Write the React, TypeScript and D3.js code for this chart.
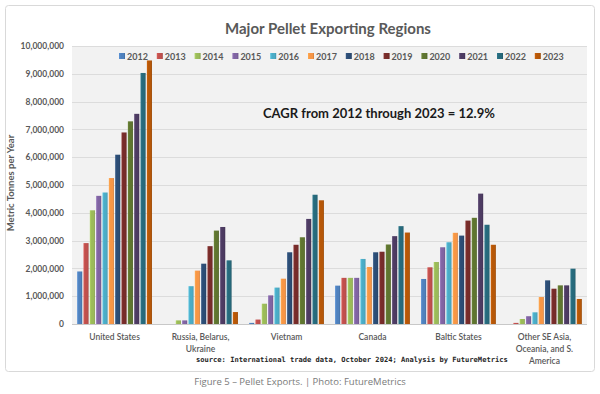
import * as d3 from "d3";
import React, { useEffect, useRef } from "react";

const regions = ["United States", "Russia", "Vietnam", "Canada", "Baltic States", "Other"];
const regionLabels = [
  ["United States"],
  ["Russia, Belarus,", "Ukraine"],
  ["Vietnam"],
  ["Canada"],
  ["Baltic States"],
  ["Other SE Asia,", "Oceania, and S.", "America"],
];
const years = ["2012", "2013", "2014", "2015", "2016", "2017", "2018", "2019", "2020", "2021", "2022", "2023"];
const yearColors = [
  "#4f81bd", "#c0504d", "#9bbb59", "#8064a2", "#4bacc6", "#f79646",
  "#2c4d75", "#772c2a", "#5f7530", "#4d3b62", "#276a7c", "#b65708",
];

// million tonnes per year, 2012..2023
const unitedStates = [1.89, 2.91, 4.09, 4.61, 4.73, 5.25, 6.09, 6.89, 7.29, 7.56, 9.03, 9.48];
const russiaBelarusUkraine = [0, 0, 0.13, 0.13, 1.36, 1.92, 2.17, 2.8, 3.36, 3.49, 2.29, 0.43];
const vietnam = [0.04, 0.16, 0.73, 1.03, 1.31, 1.63, 2.58, 2.85, 3.12, 3.78, 4.65, 4.45];
const canada = [1.38, 1.66, 1.66, 1.66, 2.34, 2.05, 2.58, 2.6, 2.86, 3.16, 3.52, 3.29];
const balticStates = [1.62, 2.04, 2.23, 2.76, 2.94, 3.28, 3.18, 3.72, 3.82, 4.69, 3.57, 2.85];
const otherSeAsia = [0, 0.04, 0.18, 0.28, 0.42, 0.97, 1.57, 1.27, 1.39, 1.39, 1.99, 0.9];

const regionValues = [unitedStates, russiaBelarusUkraine, vietnam, canada, balticStates, otherSeAsia];
const yTicks = [0, 1e6, 2e6, 3e6, 4e6, 5e6, 6e6, 7e6, 8e6, 9e6, 1e7];

const W = 600;
const H = 394;
const plot = { left: 72, right: 587, top: 46, bottom: 324 };
const font = "Lato, 'Open Sans', sans-serif";
const gray = "#595959";

const App = () => {
  const ref = useRef<SVGSVGElement>(null);

  useEffect(() => {
    const svg = d3.select(ref.current);
    svg.selectAll("*").remove();

    const x0 = d3.scaleBand().domain(regions).range([plot.left, plot.right]).paddingInner(0.13).paddingOuter(0.06);
    const x1 = d3.scaleBand().domain(years).range([0, x0.bandwidth()]).paddingInner(0.2);
    const y = d3.scaleLinear().domain([0, 1e7]).range([plot.bottom, plot.top]);

    // bevel-like gradients for each series
    const defs = svg.append("defs");
    yearColors.forEach((c, i) => {
      const g = defs.append("linearGradient").attr("id", `bar${i}`).attr("x1", 0).attr("x2", 1).attr("y1", 0).attr("y2", 0);
      g.append("stop").attr("offset", "0%").attr("stop-color", d3.color(c)!.brighter(0.35).formatHex());
      g.append("stop").attr("offset", "35%").attr("stop-color", c);
      g.append("stop").attr("offset", "75%").attr("stop-color", c);
      g.append("stop").attr("offset", "100%").attr("stop-color", d3.color(c)!.darker(0.5).formatHex());
    });

    // frame
    svg.append("rect").attr("x", 5.5).attr("y", 5.5).attr("width", 589).attr("height", 366)
      .attr("rx", 3).attr("fill", "#fff").attr("stroke", "#d9d9d9");

    svg.append("rect").attr("x", plot.left).attr("y", plot.top)
      .attr("width", plot.right - plot.left).attr("height", plot.bottom - plot.top).attr("fill", "#f2f2f2");

    svg.append("g").selectAll("line").data(yTicks.slice(1)).join("line")
      .attr("x1", plot.left).attr("x2", plot.right)
      .attr("y1", (d) => Math.round(y(d)) + 0.5).attr("y2", (d) => Math.round(y(d)) + 0.5)
      .attr("stroke", "#dcdcdc");

    svg.append("line").attr("x1", plot.left).attr("x2", plot.right)
      .attr("y1", plot.bottom + 0.5).attr("y2", plot.bottom + 0.5).attr("stroke", "#c8c8c8");

    // y axis
    const yAxis = d3.axisLeft(y).tickValues(yTicks).tickFormat(d3.format(",") as any).tickSize(0).tickPadding(3);
    const ya = svg.append("g").attr("transform", "translate(67,0)").call(yAxis);
    ya.select(".domain").remove();
    ya.selectAll("text").attr("fill", gray).style("font-family", font).style("font-size", "8.5px").style("font-weight", "bold");

    svg.append("text")
      .attr("transform", "translate(14,183) rotate(-90)")
      .attr("text-anchor", "middle").attr("fill", gray)
      .style("font-family", font).style("font-size", "9.5px").style("font-weight", "bold")
      .text("Metric Tonnes per Year");

    // bars
    const groups = svg.append("g").selectAll("g").data(regions).join("g")
      .attr("transform", (d) => `translate(${x0(d)},0)`);
    groups.selectAll("rect")
      .data((_, i) => regionValues[i].map((v, j) => ({ year: years[j], v: v * 1e6, j })))
      .join("rect")
      .attr("x", (d) => x1(d.year)!)
      .attr("width", x1.bandwidth())
      .attr("y", (d) => y(d.v))
      .attr("height", (d) => plot.bottom - y(d.v))
      .attr("fill", (d) => `url(#bar${d.j})`);

    // category labels, one text per line
    const labelLines = regions.flatMap((r, i) =>
      regionLabels[i].map((t, k) => ({ t, k, cx: x0(r)! + x0.bandwidth() / 2 }))
    );
    svg.append("g").selectAll("text").data(labelLines).join("text")
      .attr("x", (d) => d.cx).attr("y", (d) => 339.5 + d.k * 12)
      .attr("text-anchor", "middle").attr("fill", gray)
      .style("font-family", font).style("font-size", "8.5px").style("font-weight", "600")
      .text((d) => d.t);

    // legend
    const legend = svg.append("g").selectAll("g").data(years).join("g")
      .attr("transform", (_, i) => `translate(${119 + i * 37.8},53)`);
    legend.append("rect").attr("width", 6).attr("height", 6).attr("fill", (_, i) => `url(#bar${i})`);
    legend.append("text").attr("x", 8).attr("y", 6.5).attr("fill", gray)
      .style("font-family", font).style("font-size", "9px").style("font-weight", "bold")
      .text((d) => d);

    // title and notes
    svg.append("text").attr("x", 328).attr("y", 34).attr("text-anchor", "middle").attr("fill", gray)
      .style("font-family", font).style("font-size", "15px").style("font-weight", "bold")
      .text("Major Pellet Exporting Regions");

    svg.append("text").attr("x", 263).attr("y", 118).attr("fill", "#1a1a1a")
      .style("font-family", font).style("font-size", "13px").style("font-weight", "bold")
      .text("CAGR from 2012 through 2023 = 12.9%");

    svg.append("text").attr("x", 196).attr("y", 362).attr("fill", "#262626")
      .style("font-family", "'DejaVu Sans Mono', monospace").style("font-size", "7.1px").style("font-weight", "bold")
      .text("source: International trade data, October 2024; Analysis by FutureMetrics");

    svg.append("text").attr("x", 300).attr("y", 385).attr("text-anchor", "middle").attr("fill", "#7a7a7a")
      .style("font-family", "'Open Sans', sans-serif").style("font-size", "9.5px")
      .text("Figure 5 \u2013 Pellet Exports. | Photo: FutureMetrics");
  }, []);

  return (
    <svg ref={ref} width={W} height={H} style={{ position: "absolute", left: 0, top: 0, background: "#fff" }} />
  );
};

export default App;
